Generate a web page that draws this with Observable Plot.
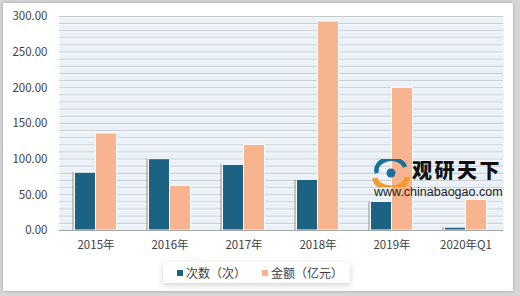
<!DOCTYPE html>
<html>
<head>
<meta charset="utf-8">
<script src="https://cdn.jsdelivr.net/npm/d3@7"></script>
<script src="https://cdn.jsdelivr.net/npm/@observablehq/plot@0.6"></script>
<style>
  html, body { margin: 0; padding: 0; }
  body { width: 520px; height: 296px; background: #d6d6d6; position: relative; overflow: hidden;
         font-family: "Noto Sans CJK SC", "Noto Sans", sans-serif; }
  #card { position: absolute; left: 3px; top: 3px; width: 510px; height: 288px; background: #fff;
          box-shadow: 0 0 3px rgba(0,0,0,0.25); }
  #chart { position: absolute; left: 0; top: 0; }
  #legend { position: absolute; left: 160px; top: 259px; width: 187px; height: 21px; background: #fff;
            box-shadow: 0 2px 6px rgba(0,0,0,0.18); font-size: 12px; color: #404040;
            display: flex; align-items: center; }
  .item { display: flex; align-items: center; margin-left: 14px; }
  .item + .item { margin-left: 16px; }
  .sw { width: 6px; height: 6px; margin-right: 3px; }
  #wm { position: absolute; left: 369px; top: 155px; width: 140px; height: 45px; pointer-events: none; }
  #wm .cn { position: absolute; left: 40px; top: 1px; font-size: 20px; line-height: 22px; font-weight: 900; color: #111; letter-spacing: 2.5px; }
  #wm .url { position: absolute; left: 2px; top: 28px; font-family: "Liberation Sans", Arial, sans-serif; font-size: 12.5px; line-height: 13px; color: #222; }
</style>
</head>
<body>
<div id="card">
  <div id="chart"></div>
  <div id="wm">
    <svg width="40" height="28" style="position:absolute;left:0px;top:1px">
      <path d="M5 14 A13 10 0 0 1 33 8" fill="none" stroke="#1b6f9c" stroke-width="4.5"/>
      <path d="M3 19 A15 10 0 0 0 35 18" fill="none" stroke="#f29a2e" stroke-width="5.5"/>
      <circle cx="19" cy="14" r="4.5" fill="#1b6f9c"/>
    </svg>
    <div class="cn">观研天下</div>
    <div class="url">www.chinabaogao.com</div>
  </div>
  <div id="legend">
    <div class="item"><div class="sw" style="background:#1b6283"></div>次数（次）</div>
    <div class="item"><div class="sw" style="background:#f8b48f"></div>金额（亿元）</div>
  </div>
</div>
<script>
const categories = ["2015年", "2016年", "2017年", "2018年", "2019年", "2020年Q1"];
const counts = [81, 100, 92, 71, 40, 4];
const amounts = [136, 62.5, 120, 293, 200, 43];
const yTicks = [0, 50, 100, 150, 200, 250, 300];
const gridValues = d3.range(10, 301, 10);

const countData = categories.map((c, i) => ({cat: c, v: counts[i]}));
const amountData = categories.map((c, i) => ({cat: c, v: amounts[i]}));

const chart = Plot.plot({
  width: 510,
  height: 255,
  marginLeft: 56,
  marginRight: 10,
  marginTop: 13,
  marginBottom: 28,
  style: {fontFamily: '"Noto Sans CJK SC", sans-serif', fontSize: "11px", color: "#404040", background: "transparent"},
  x: {type: "band", domain: categories, paddingInner: 0.716, paddingOuter: 0.358, label: null},
  y: {domain: [0, 300], label: null},
  marks: [
    Plot.frame({fill: "#eaf1f8", stroke: null}),
    Plot.ruleY(gridValues, {stroke: "#c3c8cd", strokeWidth: 1}),
    Plot.ruleY(gridValues, {stroke: "#f7fafc", strokeWidth: 1, dy: 1}),
    Plot.barY(countData, {x: "cat", y: "v", dx: -13, fill: "#7a7f84", fillOpacity: 0.4}),
    Plot.barY(countData, {x: "cat", y: "v", dx: -10.5, fill: "#1b6283", stroke: "#fff", strokeWidth: 1}),
    Plot.barY(amountData, {x: "cat", y: "v", dx: 10.5, fill: "#f8b48f", stroke: "#fff", strokeWidth: 1}),
    Plot.ruleY([0], {stroke: "#a6a6a6", strokeWidth: 1}),
    Plot.axisY({ticks: yTicks, tickFormat: d => d.toFixed(2), tickSize: 0, tickPadding: 12, fontSize: 11.5}),
    Plot.axisX({tickSize: 0, tickPadding: 10, fontSize: 11.5})
  ]
});
document.getElementById("chart").appendChild(chart);
</script>
</body>
</html>
